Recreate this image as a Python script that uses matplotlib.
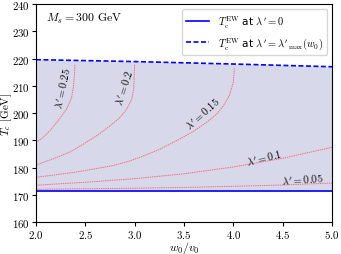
import matplotlib
matplotlib.use("Agg")
import matplotlib.pyplot as plt

plt.rcParams['font.family'] = ['cmr10', 'DejaVu Serif']
plt.rcParams['mathtext.fontset'] = 'cm'
plt.rcParams['axes.formatter.use_mathtext'] = True
plt.rcParams['font.size'] = 8

# data
w_band = [2.0, 3.0, 4.0, 5.0]
T_lower = [171.3, 171.3, 171.3, 171.3]
T_upper = [219.6, 218.9, 218.0, 217.0]

w_025 = [2.0, 2.07, 2.14, 2.22, 2.31, 2.36, 2.38, 2.39, 2.395]
T_025 = [189.2, 191.0, 193.5, 197.0, 201.5, 205.5, 210.0, 214.0, 218.0]
w_020 = [2.0, 2.19, 2.35, 2.48, 2.62, 2.75, 2.85, 2.92, 2.97, 2.99, 3.0]
T_020 = [180.9, 183.4, 185.8, 188.6, 191.8, 195.3, 198.3, 201.5, 205.0, 208.8, 218.0]
w_015 = [2.0, 2.4, 2.78, 2.95, 3.1, 3.26, 3.46, 3.6, 3.73, 3.83, 3.90, 3.96, 4.0, 4.01]
T_015 = [176.4, 178.3, 180.7, 182.4, 184.4, 186.8, 190.5, 193.4, 196.6, 199.6, 202.7, 206.5, 211.3, 216.4]
w_010 = [2.0, 2.5, 3.0, 3.5, 4.0, 4.5, 5.0]
T_010 = [173.5, 174.6, 175.9, 177.7, 180.2, 183.4, 187.4]
w_005 = [2.0, 3.0, 3.5, 4.0, 4.5, 5.0]
T_005 = [172.0, 172.4, 172.7, 173.1, 173.6, 174.3]

contours = [(w_025, T_025), (w_020, T_020), (w_015, T_015), (w_010, T_010), (w_005, T_005)]
labels = [r"$\lambda'=0.25$", r"$\lambda'=0.2$", r"$\lambda'=0.15$", r"$\lambda'=0.1$", r"$\lambda'=0.05$"]
label_pos = [(2.27, 209.5, 78), (2.89, 209.5, 72), (3.69, 200.0, 42), (4.31, 183.9, 14), (4.70, 175.8, 4)]

fig = plt.figure(figsize=(3.41, 2.55), dpi=100)
ax = fig.add_axes([0.1056, 0.1255, 0.8680, 0.8545])

ax.fill_between(w_band, T_lower, T_upper, color='#d8d8eb', lw=0)
ax.plot(w_band, T_lower, color='blue', lw=1.2, label=r"$T_{\rm c}^{\rm EW}$ at $\lambda'=0$")
ax.plot(w_band, T_upper, color='blue', lw=1.2, ls=(0, (3, 1.5)),
        label=r"$T_{\rm c}^{\rm EW}$ at $\lambda'=\lambda'_{\rm max}(w_0)$")

for (w, T) in contours:
    ax.plot(w, T, color='#f27080', lw=0.7, ls=(0, (1.5, 0.8)))
for lab, (x, y, r) in zip(labels, label_pos):
    ax.text(x, y, lab, rotation=r, ha='center', va='center', fontsize=7.5)

ax.text(2.1, 235, r"$M_s = 300$ GeV", fontsize=8.5, ha='left', va='center')

ax.set_xlim(2.0, 5.0)
ax.set_ylim(160, 240)
ax.set_xticks([2.0, 2.5, 3.0, 3.5, 4.0, 4.5, 5.0])
ax.set_yticks([160, 170, 180, 190, 200, 210, 220, 230, 240])
ax.tick_params(direction='out', length=3, width=0.8, labelsize=7.8, pad=1.2)
ax.set_xlabel(r"$w_0/v_0$", fontsize=8.5)
ax.xaxis.set_label_coords(0.5, -0.078)
ax.set_ylabel(r"$T_c$ [GeV]", fontsize=8)
ax.yaxis.set_label_coords(-0.074, 0.5)

leg = ax.legend(loc='upper right', prop={'family': 'DejaVu Sans', 'size': 7.5},
                frameon=True, fancybox=True, handlelength=2.2, borderaxespad=0.5)

fig.savefig("out.png", dpi=100)
